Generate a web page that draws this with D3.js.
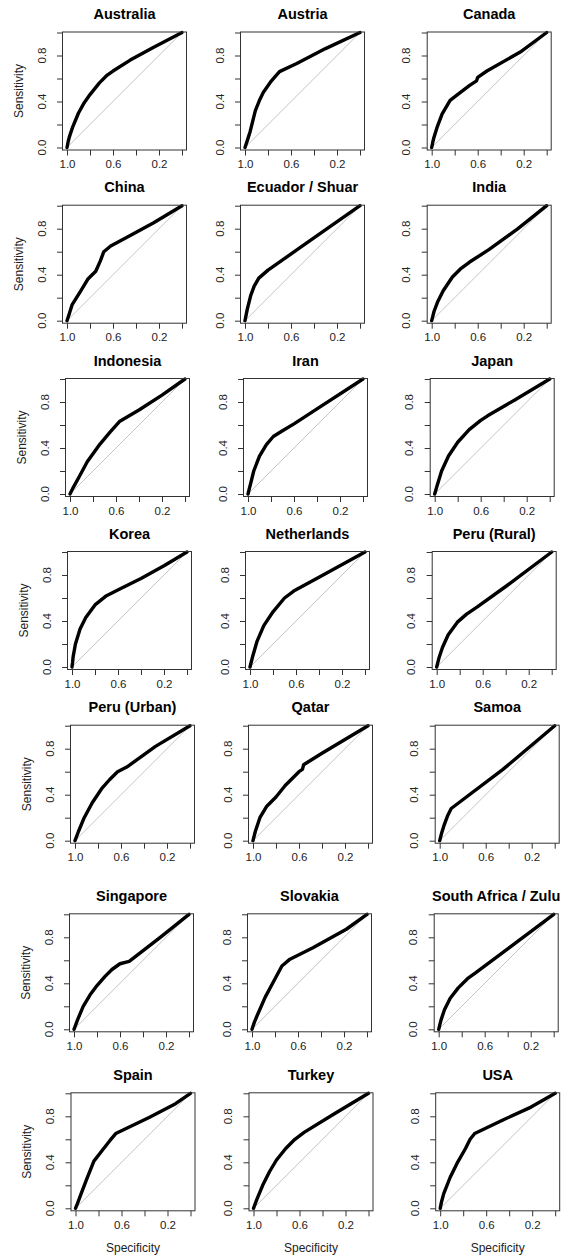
<!DOCTYPE html>
<html>
<head>
<meta charset="utf-8">
<script src="https://cdn.jsdelivr.net/npm/d3@7"></script>
<style>
html,body{margin:0;padding:0;background:#fff;}
svg{display:block;}
text{font-family:"Liberation Sans", Arial, Helvetica, sans-serif;}
</style>
</head>
<body>
<svg id="chart" width="566" height="1257"></svg>
<script>
// ---- data: [specificity, sensitivity] pairs ----
const countries = ["Australia","Austria","Canada","China","Ecuador / Shuar","India",
  "Indonesia","Iran","Japan","Korea","Netherlands","Peru (Rural)",
  "Peru (Urban)","Qatar","Samoa","Singapore","Slovakia","South Africa / Zulu",
  "Spain","Turkey","USA"];

const australia = [[1,0],[0.99,0.05],[0.98,0.09],[0.95,0.18],[0.9,0.3],[0.85,0.39],[0.8,0.46],[0.72,0.56],[0.65,0.63],[0.6,0.665],[0.45,0.76],[0.25,0.87],[0,1]];
const austria = [[1,0],[0.98,0.06],[0.955,0.14],[0.91,0.32],[0.87,0.42],[0.84,0.48],[0.77,0.58],[0.7,0.66],[0.55,0.73],[0.3,0.86],[0,1]];
const canada = [[1,0],[0.99,0.05],[0.98,0.09],[0.955,0.17],[0.91,0.29],[0.84,0.41],[0.75,0.48],[0.67,0.54],[0.61,0.58],[0.6,0.61],[0.52,0.665],[0.23,0.83],[0,1]];
const china = [[1,0],[0.98,0.06],[0.955,0.14],[0.88,0.26],[0.82,0.36],[0.75,0.43],[0.71,0.52],[0.68,0.6],[0.62,0.65],[0.45,0.74],[0.25,0.85],[0,1]];
const ecuador = [[1,0],[0.99,0.05],[0.98,0.1],[0.95,0.22],[0.92,0.3],[0.88,0.37],[0.8,0.44],[0.5,0.65],[0,1]];
const india = [[1,0],[0.99,0.04],[0.98,0.08],[0.95,0.16],[0.9,0.26],[0.82,0.38],[0.75,0.45],[0.67,0.51],[0.5,0.62],[0.25,0.8],[0,1]];
const indonesia = [[1,0],[0.97,0.06],[0.92,0.15],[0.85,0.28],[0.75,0.42],[0.65,0.54],[0.57,0.63],[0.4,0.73],[0.2,0.86],[0,1]];
const iran = [[1,0],[0.99,0.04],[0.98,0.08],[0.95,0.2],[0.9,0.33],[0.84,0.43],[0.78,0.5],[0.7,0.55],[0.6,0.61],[0.4,0.74],[0,1]];
const japan = [[1,0],[0.98,0.07],[0.94,0.2],[0.88,0.33],[0.8,0.45],[0.7,0.56],[0.6,0.64],[0.54,0.68],[0.3,0.82],[0,1]];
const korea = [[1,0],[0.995,0.04],[0.99,0.09],[0.97,0.2],[0.93,0.33],[0.88,0.43],[0.8,0.54],[0.7,0.62],[0.58,0.68],[0.4,0.77],[0.2,0.88],[0,1]];
const netherlands = [[1,0],[0.98,0.08],[0.94,0.22],[0.88,0.36],[0.8,0.48],[0.7,0.6],[0.62,0.66],[0.4,0.78],[0,1]];
const peruRural = [[1,0],[0.99,0.04],[0.98,0.08],[0.95,0.17],[0.9,0.28],[0.82,0.39],[0.74,0.46],[0.65,0.52],[0.4,0.7],[0,1]];
const peruUrban = [[1,0],[0.97,0.08],[0.92,0.2],[0.85,0.33],[0.77,0.45],[0.7,0.53],[0.63,0.6],[0.55,0.64],[0.3,0.82],[0,1]];
const qatar = [[1,0],[0.98,0.08],[0.94,0.2],[0.88,0.3],[0.8,0.38],[0.72,0.48],[0.65,0.55],[0.6,0.6],[0.57,0.62],[0.56,0.66],[0.4,0.76],[0,1]];
const samoa = [[1,0],[0.985,0.06],[0.96,0.14],[0.93,0.22],[0.9,0.28],[0.45,0.62],[0,1]];
const singapore = [[1,0],[0.97,0.08],[0.92,0.2],[0.86,0.3],[0.8,0.38],[0.73,0.46],[0.67,0.52],[0.6,0.57],[0.52,0.59],[0.25,0.8],[0,1]];
const slovakia = [[1,0],[0.98,0.06],[0.955,0.12],[0.885,0.28],[0.81,0.42],[0.74,0.55],[0.67,0.61],[0.47,0.71],[0.18,0.87],[0,1]];
const southAfrica = [[1,0],[0.99,0.04],[0.98,0.08],[0.95,0.17],[0.9,0.27],[0.83,0.36],[0.75,0.44],[0.68,0.49],[0.4,0.7],[0,1]];
const spain = [[1,0],[0.98,0.05],[0.95,0.13],[0.9,0.26],[0.84,0.41],[0.77,0.5],[0.7,0.59],[0.65,0.65],[0.36,0.79],[0.13,0.91],[0,1]];
const turkey = [[1,0],[0.97,0.08],[0.92,0.2],[0.86,0.32],[0.8,0.42],[0.72,0.52],[0.64,0.6],[0.56,0.66],[0.3,0.82],[0,1]];
const usa = [[1,0],[0.99,0.05],[0.97,0.125],[0.913,0.27],[0.854,0.39],[0.78,0.52],[0.74,0.6],[0.7,0.65],[0.45,0.77],[0.21,0.88],[0,1]];

const curves = [australia, austria, canada, china, ecuador, india, indonesia, iran, japan,
  korea, netherlands, peruRural, peruUrban, qatar, samoa, singapore, slovakia, southAfrica,
  spain, turkey, usa];

const xTicks = [1.0, 0.8, 0.6, 0.4, 0.2, 0.0];
const xTickLabels = ["1.0", "", "0.6", "", "0.2", ""];
const yTicks = [0.0, 0.2, 0.4, 0.6, 0.8, 1.0];
const yTickLabels = ["0.0", "", "0.4", "", "0.8", ""];
const xAxisTitle = "Specificity";
const yAxisTitle = "Sensitivity";

// ---- layout ----
const S = 115;
const colX0 = [67, 245, 431.7];
const rowShift = [0, 0, 3, 5, 8, 7, 8.5];
const rowTop = [32.5, 205.7, 379, 552, 725.7, 914.3, 1093.3];
const padX = 4.5, padTop = 0.5, padBottom = 2.5;

const svg = d3.select("#chart");
svg.append("rect").attr("width", 566).attr("height", 1257).attr("fill", "#fff");

countries.forEach((name, i) => {
  const r = Math.floor(i / 3), c = i % 3;
  const x0 = colX0[c] + rowShift[r];
  const yTop = rowTop[r];
  const x = d3.scaleLinear().domain([1, 0]).range([x0, x0 + S]);
  const y = d3.scaleLinear().domain([0, 1]).range([yTop + S, yTop]);
  const bl = x0 - padX, br = x0 + S + padX, bt = yTop - padTop, bb = yTop + S + padBottom;
  const g = svg.append("g");

  // diagonal
  g.append("line")
    .attr("x1", x(1)).attr("y1", y(0)).attr("x2", x(0)).attr("y2", y(1))
    .attr("stroke", "#c4c4c4").attr("stroke-width", 1);

  // curve
  g.append("path")
    .datum(curves[i])
    .attr("d", d3.line().x(d => x(d[0])).y(d => y(d[1])))
    .attr("fill", "none").attr("stroke", "#000").attr("stroke-width", 3.4)
    .attr("stroke-linejoin", "round").attr("stroke-linecap", "round");

  // box
  g.append("rect")
    .attr("x", bl).attr("y", bt).attr("width", br - bl).attr("height", bb - bt)
    .attr("fill", "none").attr("stroke", "#333").attr("stroke-width", 1);

  // x axis
  const xa = g.append("g").attr("transform", `translate(0,${bb})`)
    .call(d3.axisBottom(x).tickValues(xTicks).tickSize(5.5).tickPadding(4.5)
      .tickFormat((d, k) => xTickLabels[k]));
  xa.select(".domain").remove();
  xa.selectAll("line").attr("stroke", "#333");
  xa.selectAll("text").attr("font-size", 11.5).attr("fill", "#222")
    .style("font-family", '"Liberation Sans", Arial, sans-serif');

  // y axis
  const ya = g.append("g").attr("transform", `translate(${bl},0)`)
    .call(d3.axisLeft(y).tickValues(yTicks).tickSize(5.5).tickFormat(""));
  ya.select(".domain").remove();
  ya.selectAll("line").attr("stroke", "#333");
  g.selectAll(".ylab").data(yTicks.filter((d, k) => yTickLabels[k] !== ""))
    .enter().append("text")
    .attr("transform", d => `translate(${bl - 21},${y(d)}) rotate(-90)`)
    .attr("text-anchor", "middle").attr("dominant-baseline", "central")
    .attr("font-size", 11.5).attr("fill", "#222")
    .text(d => yTickLabels[yTicks.indexOf(d)]);

  // title
  g.append("text")
    .attr("x", (bl + br) / 2).attr("y", yTop - 13.5)
    .attr("text-anchor", "middle").attr("font-size", 14.5).attr("font-weight", "bold")
    .attr("fill", "#000").text(name);

  if (c === 0) {
    g.append("text")
      .attr("transform", `translate(${bl - 44},${(bt + bb) / 2}) rotate(-90)`)
      .attr("text-anchor", "middle").attr("dominant-baseline", "central")
      .attr("font-size", 12).attr("fill", "#222").text(yAxisTitle);
  }
  if (r === 6) {
    g.append("text")
      .attr("x", (bl + br) / 2).attr("y", bb + 37)
      .attr("text-anchor", "middle").attr("dominant-baseline", "central")
      .attr("font-size", 12).attr("fill", "#222").text(xAxisTitle);
  }
});
</script>
</body>
</html>
